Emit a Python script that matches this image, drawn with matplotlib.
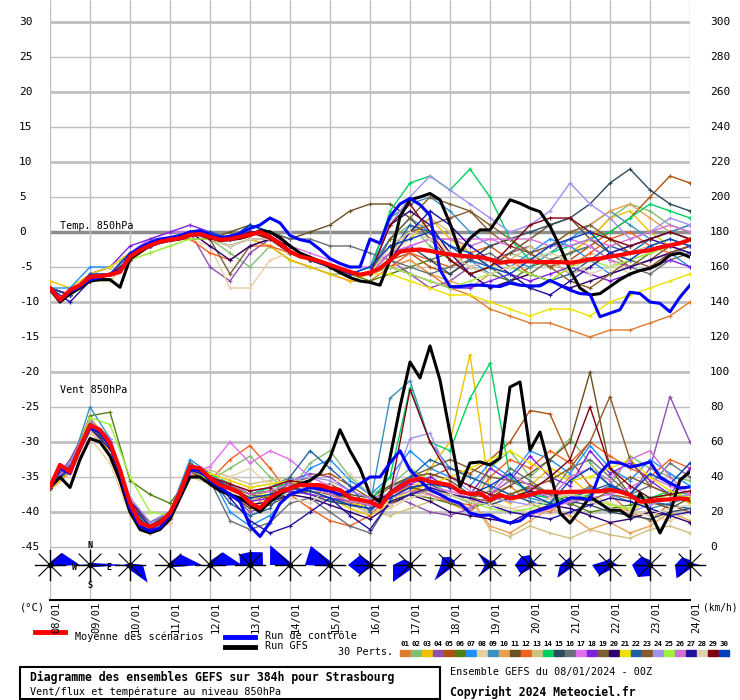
import matplotlib.pyplot as plt
import numpy as np
from matplotlib.patches import Polygon, Rectangle
from matplotlib.lines import Line2D

plt.rcParams['font.family'] = ['DejaVu Sans Mono', 'DejaVu Sans']

# ---- data (temperature in degC, wind in km/h) ----
day_labels = ['08/01', '09/01', '10/01', '11/01', '12/01', '13/01', '14/01', '15/01', '16/01',
              '17/01', '18/01', '19/01', '20/01', '21/01', '22/01', '23/01', '24/01']

# 6-hourly series
t_mean = [-8.0, -9.7, -8.3, -7.6, -6.4, -6.3, -6.1, -5.7, -3.5, -2.6, -1.9, -1.4, -1.1, -0.9, -0.4, -0.3,
          -0.7, -1.1, -1.0, -0.7, -0.4, 0.0, -0.7, -1.6, -2.8, -3.5, -3.8, -4.2, -4.7, -5.2, -5.7, -6.1, -5.8,
          -5.2, -4.0, -2.8, -2.6, -2.5, -2.7, -3.0, -3.2, -3.4, -3.5, -3.6, -3.9, -4.4, -4.2, -4.2, -4.2,
          -4.3, -4.3, -4.3, -4.4, -4.2, -3.9, -3.8, -3.5, -3.3, -3.0, -2.8, -2.6, -2.2, -1.9, -1.6, -1.1]
t_ctrl = [-8.0, -9.8, -8.5, -7.8, -6.8, -6.5, -6.0, -5.5, -3.2, -2.2, -1.5, -1.0, -0.8, -0.5, 0.0, 0.2,
          -0.4, -0.8, -0.6, -0.2, 0.5, 1.0, 2.0, 1.3, -0.5, -1.1, -1.4, -2.5, -3.8, -4.5, -5.0, -5.0, -1.0,
          -1.6, 2.2, 4.0, 4.8, 3.9, 2.4, -5.4, -7.8, -7.8, -7.6, -7.6, -7.7, -7.8, -7.3, -7.6, -7.7,
          -7.7, -6.9, -7.6, -8.3, -8.8, -8.9, -12.1, -11.6, -11.1, -8.6, -8.8, -10.0, -10.2, -11.4, -9.3, -7.6]
t_gfs = [-8.2, -10.0, -8.8, -8.0, -7.0, -6.8, -6.8, -7.9, -3.8, -2.8, -2.0, -1.5, -1.2, -1.0, -0.5, -0.3,
         -0.8, -1.2, -1.1, -0.9, -0.5, 0.2, 0.0, -0.8, -2.0, -3.0, -3.6, -4.2, -5.0, -5.8, -6.5, -7.0, -7.2,
         -7.6, -4.0, 2.2, 4.6, 5.0, 5.5, 4.6, 1.2, -2.9, -0.9, 0.3, 0.3, 2.4, 4.6, 4.1, 3.4,
         2.9, 0.8, -2.1, -5.4, -8.0, -9.0, -8.8, -7.8, -6.8, -6.0, -5.5, -5.2, -4.5, -3.3, -3.0, -3.6]
w_mean = [34.3, 46.9, 42.9, 57, 69.7, 66.9, 59.4, 44, 25, 13.7, 11.6, 13.7, 19.4, 30.9, 45.9, 45,
          39.4, 35.4, 33.5, 30.9, 25.1, 22.3, 28, 31.6, 33.5, 35.4, 35.4, 35.4, 33.5, 32.6, 28, 26.9, 25.8,
          22.9, 30.7, 34.5, 37.9, 39.2, 37.3, 36.4, 35.4, 31.6, 30.3, 30.7, 26.9, 29.7, 27.8, 28.8, 29.7,
          31.6, 31.6, 31.1, 31.6, 31.6, 31.8, 31.8, 32.6, 31.6, 29.7, 25.9, 26.3, 26.9, 27.2, 27.8, 27.2]
w_ctrl = [34, 45, 42, 56, 68, 66, 58, 42, 22, 12, 9, 11, 18, 30, 44, 44,
          38, 34, 30, 26, 12, 6, 14, 25, 30, 32, 34, 33, 32, 30, 32, 36, 40,
          40, 48, 55, 44, 38, 32.6, 30, 26.9, 25, 19.4, 18, 18.3, 15.4, 13.7, 15, 19.4,
          21, 22.9, 25, 28, 28, 27, 42.3, 48.6, 48, 45.7, 46.9, 48.6, 40, 36.6, 33.7, 34.3]
w_gfs = [34, 40, 34, 50, 62, 60, 52, 38, 20, 10, 8, 10, 16, 28, 40, 40,
         36, 32, 30, 28, 24, 20, 26, 30, 34, 36, 38, 42, 51, 67, 55, 45, 30,
         25.7, 51, 80, 105.7, 96.6, 114.9, 95.4, 65, 34.3, 48, 48.6, 46.9, 50.9, 91.4, 94.3, 55.4,
         65.7, 44, 19.4, 13.7, 21.1, 28.6, 25, 21, 21, 17, 30.9, 20, 8, 19.4, 38.3, 42.9]

# 12-hourly perturbations 01..30
t_perts = [
    [-8, -9, -6, -6, -3, -2, -1, 0, -1, -2, -1, -2, -4, -5, -6, -7, -7, -5, -4, -6, -8, -9, -11, -12, -13, -13, -14, -15, -14, -14, -13, -12, -10],
    [-8, -9, -7, -7, -4, -2, -1, 0, -1, -3, -5, -2, -4, -5, -6, -6, -6, -1, 1, -2, -4, -6, -5, -3, -4, -5, -3, -1, 2, 4, 3, 1, 0],
    [-7, -8, -6, -5, -3, -2, -1, 0, -1, -2, -1, -2, -4, -5, -6, -7, -6, -3, -1, 2, -1, -3, -5, -7, -6, -4, -3, -1, 2, 3, 0, -2, -3],
    [-8, -9, -6, -6, -3, -2, -1, 0, -5, -7, -3, -1, -2, -4, -5, -6, -6, -4, -6, -8, -7, -5, -4, -3, -2, -4, -6, -5, -3, -2, -1, 0, 1],
    [-8, -9, -7, -6, -4, -2, -1, 0, -1, -1, 0, -1, -3, -4, -5, -6, -6, -4, -3, -5, -6, -4, -2, -1, -3, -5, -4, -2, 0, 2, 5, 8, 7],
    [-8, -9, -6, -6, -4, -2, -1, -1, -1, -2, -1, -1, -3, -4, -5, -6, -7, -6, -5, -4, -3, -5, -6, -7, -5, -4, -3, -2, -4, -5, -3, -2, -1],
    [-8, -8, -5, -5, -3, -1, -1, 0, -1, -1, 1, 0, -2, -4, -5, -6, -5, -1, 2, 0, -2, -4, -6, -5, -3, -1, -2, -4, -6, -5, -4, -3, -5],
    [-8, -9, -7, -7, -4, -3, -2, -1, -2, -8, -8, -4, -3, -4, -5, -6, -6, -3, -1, 0, -3, -5, -4, -6, -8, -7, -5, -3, -4, -6, -5, -4, -3],
    [-8, -9, -6, -5, -3, -2, -1, 0, 0, -1, 0, -1, -3, -4, -5, -6, -5, 2, 4, 5, 3, 0, -2, -4, -5, -3, -1, 1, 3, 1, -1, 0, 1],
    [-8, -9, -6, -6, -4, -2, -1, 0, -1, -1, 0, -1, -3, -4, -5, -6, -6, -5, -4, -6, -7, -8, -6, -5, -4, -2, 0, 1, 3, 4, 2, 0, -1],
    [-8, -9, -7, -6, -4, -2, -1, 0, -1, 0, 1, 0, -1, 0, 1, 3, 4, 4, 2, -1, -4, -6, -5, -3, -1, 1, 2, -1, -3, -5, -4, -2, -3],
    [-8, -9, -6, -6, -3, -2, -1, -1, -3, -4, -2, -2, -3, -4, -5, -6, -6, -5, -3, -4, -5, -3, -2, -4, -6, -7, -5, -3, -1, 0, -2, -3, -2],
    [-8, -9, -6, -5, -3, -2, -1, 0, -1, -1, 0, -1, -3, -4, -5, -6, -6, -3, 0, 2, 0, -3, -5, -4, -2, -4, -6, -5, -3, -4, -3, -2, -1],
    [-8, -9, -6, -6, -3, -2, -1, 0, -1, -2, -1, -1, -3, -4, -5, -6, -6, 3, 7, 8, 6, 9, 5, -1, -4, -3, -2, -1, 0, 2, 4, 3, 2],
    [-8, -9, -7, -6, -3, -2, -1, 0, 0, -1, 0, -1, -3, -4, -5, -6, -6, -4, -2, -4, -6, -4, -2, -1, 0, 1, 2, 4, 7, 9, 6, 4, 3],
    [-8, -9, -6, -6, -3, -2, -1, 0, 0, -1, 0, 0, -1, -1, -2, -2, -3, -4, -5, -6, -5, -4, -3, -5, -6, -4, -3, -2, -4, -5, -6, -4, -3],
    [-8, -9, -6, -6, -3, -1, 0, 0, -1, -1, 0, 0, -2, -3, -4, -5, -5, -3, -2, -1, -1, -1, -1, -2, -3, -2, -1, -2, -4, -5, -4, -3, -2],
    [-8, -9, -6, -5, -2, -1, 0, 1, 0, -1, 0, 0, -2, -4, -5, -6, -6, -5, -6, -7, -8, -8, -7, -6, -7, -6, -5, -6, -7, -6, -5, -4, -5],
    [-8, -9, -7, -6, -4, -2, -1, 0, -1, -6, -2, -1, -3, -4, -5, -6, -6, -1, 2, 5, 4, 3, 1, -1, -3, -2, 0, 1, -1, -3, -2, -1, -2],
    [-8, -9, -6, -6, -3, -2, -1, 0, -2, -4, -2, -1, -2, -4, -5, -6, -6, 1, 3, 1, -3, -6, -8, -7, -6, -7, -8, -7, -6, -5, -4, -3, -2],
    [-8, -9, -6, -5, -3, -2, -1, 0, -1, -1, 0, -1, -3, -4, -5, -6, -6, -6, -7, -8, -9, -9, -10, -11, -12, -11, -11, -12, -10, -9, -8, -7, -6],
    [-8, -9, -6, -6, -3, -2, -1, 0, 0, -1, 1, 0, -2, -4, -5, -6, -6, -3, 1, 0, -2, -4, -5, -7, -8, -7, -6, -4, -2, -3, -1, 0, -1],
    [-8, -9, -7, -6, -4, -2, -1, 0, -1, -1, 0, -1, -3, -4, -5, -6, -6, -2, 0, 1, 2, 3, 0, -2, -3, -5, -7, -8, -6, -4, -5, -3, -2],
    [-8, -9, -6, -6, -3, -2, -1, 0, 0, -1, 0, -1, -3, -4, -5, -6, -6, 1, 5, 8, 6, 4, 2, 0, 1, 3, 7, 4, 2, -1, 0, 2, 1],
    [-8, -9, -7, -6, -4, -3, -2, -1, -1, -2, -1, -1, -3, -4, -5, -6, -6, -5, -6, -7, -8, -7, -6, -5, -6, -7, -5, -4, -5, -4, -3, -2, -1],
    [-8, -9, -6, -6, -3, -2, -1, 0, -1, -2, -1, -1, -3, -4, -5, -6, -6, -3, -2, -1, -1, -2, -1, -1, -1, -2, -2, -1, -2, -1, 0, 1, 0],
    [-8, -10, -7, -6, -3, -2, -1, 0, -1, -1, 0, 0, -2, -4, -5, -6, -6, -4, 0, 3, 1, -2, -4, -6, -8, -9, -7, -5, -3, -2, -1, -2, -3],
    [-8, -9, -6, -6, -3, -2, -1, 0, -1, -2, -1, -1, -3, -4, -5, -6, -6, -2, 0, -1, -3, -5, -6, -5, -4, -3, -4, -6, -5, -3, -2, -1, -2],
    [-8, -9, -7, -6, -4, -2, -1, 0, -1, -1, 0, -1, -3, -4, -5, -6, -6, 1, 4, 0, -4, -6, -5, -2, 1, 2, 2, 0, -1, -2, -1, 0, -1],
    [-8, -9, -6, -6, -3, -2, -1, 0, 0, -1, 1, 0, -2, -4, -5, -6, -5, -2, -1, 0, -2, -3, -5, -6, -4, -2, -1, 0, -3, -4, -2, -1, -2],
]
w_perts = [
    [34, 45, 70, 58, 22, 10, 18, 45, 40, 30, 22, 30, 40, 35, 30, 25, 22, 30, 35, 30, 25, 20, 30, 35, 25, 20, 28, 35, 30, 20, 15, 25, 30],
    [36, 48, 72, 60, 25, 12, 20, 48, 38, 45, 52, 40, 32, 48, 55, 40, 30, 35, 45, 38, 30, 25, 45, 55, 40, 50, 62, 48, 35, 52, 45, 40, 38],
    [33, 44, 66, 55, 20, 10, 16, 42, 42, 36, 28, 32, 36, 30, 28, 22, 18, 25, 30, 45, 60, 110, 30, 25, 35, 45, 40, 30, 25, 20, 28, 30, 25],
    [35, 50, 72, 62, 28, 14, 20, 46, 36, 30, 20, 25, 38, 42, 40, 32, 28, 30, 25, 20, 18, 22, 30, 38, 32, 28, 24, 30, 35, 30, 45, 86, 60],
    [34, 45, 72, 60, 25, 12, 18, 48, 40, 34, 26, 30, 36, 40, 42, 35, 28, 25, 30, 40, 45, 42, 50, 60, 78, 76, 50, 35, 30, 28, 25, 24, 20],
    [35, 46, 75, 77, 38, 30, 25, 40, 38, 35, 30, 28, 30, 32, 28, 24, 22, 26, 30, 28, 25, 22, 26, 30, 35, 30, 25, 20, 22, 24, 28, 30, 26],
    [34, 44, 68, 56, 24, 12, 20, 50, 42, 20, 12, 18, 30, 45, 50, 38, 30, 40, 55, 45, 40, 35, 48, 40, 55, 50, 42, 58, 45, 38, 50, 42, 35],
    [32, 42, 62, 48, 18, 8, 14, 40, 36, 32, 28, 26, 30, 28, 26, 24, 20, 22, 28, 30, 32, 28, 26, 22, 20, 24, 28, 30, 25, 22, 18, 15, 20],
    [34, 45, 80, 62, 26, 14, 20, 48, 40, 36, 30, 34, 40, 36, 32, 28, 24, 85, 95, 60, 45, 40, 35, 30, 28, 25, 30, 34, 30, 26, 22, 25, 28],
    [35, 47, 74, 60, 25, 12, 18, 45, 42, 38, 34, 36, 38, 32, 28, 26, 24, 30, 36, 34, 30, 28, 12, 8, 15, 22, 18, 10, 14, 8, 12, 20, 15],
    [34, 44, 68, 56, 22, 10, 16, 44, 38, 30, 22, 24, 30, 34, 36, 30, 28, 35, 40, 42, 38, 30, 28, 35, 42, 50, 60, 100, 45, 30, 26, 22, 28],
    [33, 43, 66, 54, 20, 8, 14, 42, 38, 50, 58, 45, 30, 22, 15, 12, 18, 30, 34, 30, 26, 24, 40, 50, 45, 55, 48, 60, 52, 45, 40, 50, 45],
    [34, 45, 70, 58, 24, 12, 18, 46, 44, 40, 36, 38, 40, 36, 30, 24, 20, 18, 22, 26, 30, 28, 10, 6, 12, 8, 5, 10, 7, 5, 10, 12, 8],
    [35, 46, 70, 58, 23, 10, 16, 46, 42, 36, 30, 34, 36, 34, 30, 28, 26, 40, 91, 60, 55, 85, 105, 40, 30, 28, 26, 30, 34, 30, 28, 32, 30],
    [34, 45, 68, 58, 24, 12, 18, 44, 40, 36, 30, 32, 34, 30, 26, 24, 22, 28, 34, 36, 30, 26, 24, 28, 32, 30, 26, 24, 20, 18, 16, 20, 22],
    [34, 45, 70, 60, 26, 14, 20, 46, 38, 15, 10, 14, 25, 28, 20, 12, 8, 26, 30, 32, 30, 28, 32, 45, 38, 30, 45, 50, 40, 30, 35, 48, 40],
    [35, 46, 70, 58, 22, 8, 14, 42, 46, 60, 48, 55, 50, 40, 35, 28, 25, 26, 30, 34, 32, 28, 24, 20, 18, 22, 26, 28, 30, 34, 40, 35, 30],
    [34, 47, 72, 60, 24, 12, 18, 44, 40, 34, 26, 28, 32, 30, 28, 26, 24, 30, 36, 40, 34, 30, 45, 38, 52, 40, 35, 55, 42, 48, 38, 30, 45],
    [34, 45, 70, 58, 25, 12, 20, 48, 40, 36, 30, 32, 36, 35, 30, 28, 26, 34, 40, 45, 50, 45, 40, 38, 36, 30, 28, 26, 32, 40, 35, 30, 28],
    [36, 48, 72, 60, 26, 14, 20, 44, 36, 30, 24, 26, 30, 28, 24, 20, 16, 24, 30, 26, 20, 18, 16, 14, 20, 24, 22, 18, 14, 16, 20, 18, 14],
    [33, 44, 68, 56, 22, 10, 16, 44, 42, 38, 34, 36, 38, 34, 30, 26, 22, 26, 32, 36, 40, 45, 50, 55, 48, 42, 38, 40, 45, 50, 40, 32, 28],
    [34, 45, 70, 58, 24, 12, 18, 46, 40, 25, 18, 22, 40, 55, 45, 35, 20, 32, 40, 50, 45, 40, 35, 30, 26, 24, 28, 32, 36, 30, 26, 24, 22],
    [34, 46, 72, 60, 25, 12, 18, 46, 40, 34, 28, 30, 34, 32, 30, 26, 24, 28, 34, 32, 30, 28, 26, 30, 34, 38, 45, 60, 86, 50, 35, 30, 26],
    [35, 48, 72, 62, 28, 14, 20, 46, 40, 36, 32, 34, 38, 40, 38, 32, 28, 30, 62, 65, 40, 32, 28, 26, 24, 28, 30, 26, 22, 20, 24, 28, 30],
    [34, 44, 74, 70, 40, 20, 18, 44, 38, 34, 28, 30, 34, 36, 32, 28, 24, 26, 30, 34, 30, 26, 22, 20, 22, 26, 30, 28, 24, 22, 26, 30, 28],
    [34, 45, 70, 58, 24, 12, 18, 46, 40, 36, 30, 32, 36, 34, 30, 26, 24, 28, 32, 30, 26, 22, 30, 42, 35, 28, 40, 45, 38, 50, 55, 40, 30],
    [34, 45, 68, 56, 22, 10, 16, 44, 40, 28, 15, 8, 12, 20, 28, 18, 10, 26, 30, 34, 30, 28, 24, 20, 18, 16, 20, 24, 28, 26, 22, 18, 20],
    [34, 45, 66, 54, 20, 8, 14, 40, 38, 40, 45, 35, 28, 25, 35, 42, 30, 24, 28, 32, 30, 26, 24, 22, 24, 28, 30, 26, 22, 20, 18, 22, 24],
    [34, 45, 70, 58, 24, 12, 18, 46, 40, 36, 32, 34, 38, 36, 32, 28, 26, 30, 90, 60, 40, 35, 30, 28, 32, 40, 50, 80, 45, 35, 28, 30, 32],
    [34, 45, 70, 58, 24, 12, 18, 46, 40, 34, 28, 30, 34, 32, 28, 24, 22, 28, 34, 36, 34, 30, 35, 42, 30, 25, 38, 45, 35, 30, 42, 36, 48],
]
pert_colors = ['#e07b30', '#80c070', '#f0c000', '#9050b0', '#b05010', '#508010', '#1e90ff', '#e8d0a0',
               '#3a90c0', '#e8a050', '#6b5020', '#f06020', '#d0c080', '#00d060', '#2a4a60', '#687078',
               '#e070f0', '#8020e0', '#7a6030', '#300070', '#f0e000', '#2060a0', '#8b5a2b', '#a090f0',
               '#a0f040', '#d070d0', '#2010a0', '#e0d0b0', '#800010', '#0040c0']

# wind rose radii (px) per day, directions E, NE, N, NW, W, SW, S, SE
rose_radii = [
    [30, 17, 3, 0, 0, 0, 2, 2], [35, 3, 2, 1, 12, 1, 2, 3], [13, 2, 1, 2, 7, 3, 5, 25],
    [32, 15, 3, 0, 2, 0, 1, 3], [32, 18, 4, 1, 3, 1, 1, 2], [13, 18, 13, 15, 10, 1, 1, 1],
    [2, 2, 3, 28, 20, 0, 0, 1], [2, 2, 4, 27, 25, 2, 1, 1], [5, 2, 3, 14, 22, 14, 3, 2],
    [3, 3, 3, 8, 17, 24, 5, 2], [5, 6, 8, 11, 9, 22, 4, 2], [7, 7, 4, 17, 5, 16, 3, 2],
    [8, 5, 10, 12, 15, 13, 4, 2], [5, 4, 8, 6, 10, 18, 4, 2], [8, 4, 7, 6, 18, 15, 5, 2],
    [3, 2, 5, 12, 18, 17, 11, 2], [10, 3, 5, 11, 15, 19, 4, 2],
]

W, H = 740, 700
fig = plt.figure(figsize=(7.4, 7.0), dpi=100)


def fx(x):
    return x / W


def fy(y):
    return 1 - y / H


ax = fig.add_axes([fx(50), fy(600), 640 / W, 600 / H])
ax.set_xlim(0, 16)
ax.set_ylim((232 - 600) / 7, 232 / 7)
ax.set_xticks([])
ax.set_yticks([])
for s in ['top', 'left', 'right']:
    ax.spines[s].set_visible(False)
ax.spines['bottom'].set_linewidth(1.5)

# grid
for t in range(-45, 31, 5):
    if t == 0:
        ax.hlines(t, 0, 16, color='#8c8c8c', lw=2.5, zorder=1)
    else:
        ax.hlines(t, 0, 16, color='#c0c0c0', lw=2 if t % 10 == 0 else 1, zorder=1)
ax.vlines(range(17), (232 - 600) / 7, 232 / 7, color='#c0c0c0', lw=1, zorder=1)

x6 = np.arange(65) / 4
x12 = np.arange(33) / 2


def wind(v):
    return -45 + np.array(v) / 4


for i in range(30):
    ax.plot(x12, t_perts[i], color=pert_colors[i], lw=1, marker='+', ms=3, mew=0.8, zorder=3)
    ax.plot(x12, wind(w_perts[i]), color=pert_colors[i], lw=1, marker='+', ms=3, mew=0.8, zorder=3)

ax.plot(x6, t_gfs, color='black', lw=2.2, zorder=4)
ax.plot(x6, wind(w_gfs), color='black', lw=2.2, zorder=4)
ax.plot(x6, t_ctrl, color='#0000ff', lw=2.2, zorder=5)
ax.plot(x6, wind(w_ctrl), color='#0000ff', lw=2.2, zorder=5)
ax.plot(x6, t_mean, color='#ff0000', lw=3, zorder=6)
ax.plot(x6, wind(w_mean), color='#ff0000', lw=3, zorder=6)

# wind roses
yc = (232 - 565) / 7
ang = np.deg2rad(np.arange(0, 360, 45))
for d, r in enumerate(rose_radii):
    r = np.array(r)
    pts = np.column_stack([d + r * np.cos(ang) / 40, yc + r * np.sin(ang) / 7])
    ax.add_patch(Polygon(pts, closed=True, color='#0000ff', lw=0, zorder=7, clip_on=False))
    ax.plot([d - 15 / 40, d + 15 / 40], [yc, yc], color='black', lw=1, zorder=8, clip_on=False)
    ax.plot([d, d], [yc - 15 / 7, yc + 15 / 7], color='black', lw=1, zorder=8, clip_on=False)
    ax.plot([d - 11 / 40, d + 11 / 40], [yc - 11 / 7, yc + 11 / 7], color='black', lw=0.8, zorder=8, clip_on=False)
    ax.plot([d - 11 / 40, d + 11 / 40], [yc + 11 / 7, yc - 11 / 7], color='black', lw=0.8, zorder=8, clip_on=False)
    ax.plot(d, yc, 'o', color='black', ms=3, zorder=9, clip_on=False)

for lab, x, y in [('N', 90, 546), ('S', 90, 585), ('W', 75, 568), ('E', 109, 567)]:
    fig.text(fx(x), fy(y), lab, fontsize=6, weight='bold', ha='center', va='center')

# axis labels
for t in range(-45, 31, 5):
    y = 232 - 7 * t
    fig.text(fx(19), fy(y), str(t), fontsize=8, ha='left', va='center')
    fig.text(fx(710), fy(y), str((t + 45) * 4), fontsize=8, ha='left', va='center')

fig.text(fx(60), fy(226), 'Temp. 850hPa', fontsize=7.3, ha='left', va='center')
fig.text(fx(60), fy(390), 'Vent 850hPa', fontsize=7.3, ha='left', va='center')

for i, lab in enumerate(day_labels):
    fig.text(fx(51 + 40 * i), fy(602), lab, fontsize=7.5, rotation=90, ha='left', va='top')
fig.text(fx(20), fy(607), '(°C)', fontsize=7.5, ha='left', va='center')
fig.text(fx(703), fy(607), '(km/h)', fontsize=6.9, ha='left', va='center')

# legend
fig.add_artist(Line2D([fx(35), fx(65)], [fy(632), fy(632)], color='#ff0000', lw=3.5))
fig.text(fx(75), fy(637), 'Moyenne des scénarios', fontsize=7.3, ha='left', va='center')
fig.add_artist(Line2D([fx(225), fx(255)], [fy(637), fy(637)], color='#0000ff', lw=3.5))
fig.text(fx(265), fy(636), 'Run de contrôle', fontsize=7.3, ha='left', va='center')
fig.add_artist(Line2D([fx(225), fx(255)], [fy(647), fy(647)], color='black', lw=3.5))
fig.text(fx(265), fy(646), 'Run GFS', fontsize=7.3, ha='left', va='center')
fig.text(fx(393), fy(652), '30 Perts.', fontsize=7.3, ha='right', va='center')
for i in range(30):
    fig.add_artist(Rectangle((fx(400 + 11 * i), fy(656)), 10 / W, 6 / H, color=pert_colors[i],
                             transform=fig.transFigure))
    fig.text(fx(405 + 11 * i), fy(644), f'{i + 1:02d}', fontsize=5.3, weight='bold', ha='center', va='center')

# title box
fig.add_artist(Rectangle((fx(20), fy(699)), 420 / W, 32 / H, fill=False, lw=1.5, edgecolor='black',
                         transform=fig.transFigure))
fig.text(fx(30), fy(677), 'Diagramme des ensembles GEFS sur 384h pour Strasbourg', fontsize=8.3,
         weight='bold', ha='left', va='center')
fig.text(fx(30), fy(692), 'Vent/flux et température au niveau 850hPa', fontsize=7.3, ha='left', va='center')
fig.text(fx(450), fy(672), 'Ensemble GEFS du 08/01/2024 - 00Z', fontsize=7.3, ha='left', va='center')
fig.text(fx(450), fy(692), 'Copyright 2024 Meteociel.fr', fontsize=8.3, weight='bold', ha='left', va='center')

fig.savefig('out.png', dpi=100)
